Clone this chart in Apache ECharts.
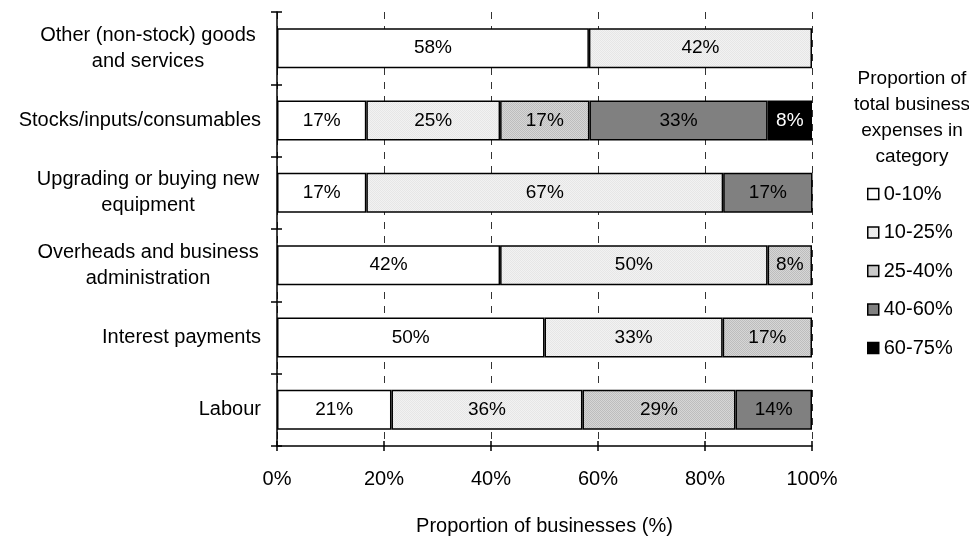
<!DOCTYPE html>
<html><head><meta charset="utf-8">
<script src="https://cdn.jsdelivr.net/npm/echarts@6/dist/echarts.min.js"></script>
<style>html,body{margin:0;padding:0;background:#fff}#c{width:969px;height:538px}</style>
</head><body><div id="c"></div>
<script>
// Categories, top to bottom
const categories = [
  'Other (non-stock) goods\nand services',
  'Stocks/inputs/consumables',
  'Upgrading or buying new\nequipment',
  'Overheads and business\nadministration',
  'Interest payments',
  'Labour'
];
const seriesNames = ['0-10%', '10-25%', '25-40%', '40-60%', '60-75%'];
// values per series (percent of businesses), in category order
const s0_10  = [58.3, 16.7, 16.7, 41.7, 50.0, 21.4];
const s10_25 = [41.7, 25.0, 66.7, 50.0, 33.3, 35.7];
const s25_40 = [null, 16.7, null,  8.3, 16.7, 28.6];
const s40_60 = [null, 33.3, 16.7, null, null, 14.3];
const s60_75 = [null,  8.3, null, null, null, null];
const xTicks = [0, 20, 40, 60, 80, 100];

function pattern(c1, c2) {
  const cv = document.createElement('canvas');
  cv.width = 2; cv.height = 2;
  const g = cv.getContext('2d');
  g.fillStyle = c1; g.fillRect(0, 0, 2, 2);
  g.fillStyle = c2; g.fillRect(0, 0, 1, 1); g.fillRect(1, 1, 1, 1);
  return { image: cv, repeat: 'repeat' };
}
const fills = ['#ffffff', pattern('#f2f2f2', '#e6e6e6'), pattern('#d6d6d6', '#bdbdbd'), '#808080', '#000000'];
const labelColors = ['#000', '#000', '#000', '#000', '#fff'];
const allData = [s0_10, s10_25, s25_40, s40_60, s60_75];

const FONT = 'Liberation Sans, Arial, sans-serif';
const FS = 20;
const chart = echarts.init(document.getElementById('c'), null, { renderer: 'canvas' });

const series = seriesNames.map((n, i) => ({
  name: n,
  type: 'bar',
  stack: 'all',
  barWidth: 40,
  data: allData[i],
  itemStyle: { color: fills[i], borderColor: '#000', borderWidth: 1.5 },
  label: {
    show: true, position: 'inside', color: labelColors[i],
    fontFamily: FONT, fontSize: 19,
    formatter: p => Math.round(p.value) + '%'
  },
  emphasis: { disabled: true }
}));

chart.setOption({
  animation: false,
  backgroundColor: '#fff',
  textStyle: { fontFamily: FONT },
  grid: { left: 277, right: 157, top: 12, bottom: 92, containLabel: false, outerBoundsMode: 'none' },
  title: {
    text: 'Proportion of\ntotal business\nexpenses in\ncategory',
    left: 907, top: 61, textAlign: 'center',
    textStyle: { fontFamily: FONT, fontSize: 19, fontWeight: 'normal', color: '#000', lineHeight: 26 }
  },
  legend: {
    orient: 'vertical', left: 862, top: 179,
    itemWidth: 11, itemHeight: 11, itemGap: 18.5,
    icon: 'rect',
    data: seriesNames,
    textStyle: { fontFamily: FONT, fontSize: FS, color: '#000' },
    itemStyle: { borderColor: '#000', borderWidth: 1.5 }
  },
  xAxis: [{
    type: 'value', min: 0, max: 100, interval: 20,
    name: 'Proportion of businesses (%)', nameLocation: 'middle', nameGap: 70,
    nameTextStyle: { fontFamily: FONT, fontSize: FS, color: '#000' },
    axisLine: { show: true, lineStyle: { color: '#000', width: 1.5 } },
    axisTick: { show: true, length: 5, lineStyle: { color: '#000', width: 1.5 } },
    axisLabel: { formatter: v => xTicks.includes(v) ? v + '%' : '', fontFamily: FONT, fontSize: FS, color: '#000', margin: 23 },
    splitLine: { show: true, lineStyle: { color: '#333', width: 1, type: [7, 7] } }
  }, {
    type: 'value', min: 0, max: 100, interval: 20, position: 'bottom',
    axisLine: { show: false },
    axisTick: { show: true, inside: true, length: 5, lineStyle: { color: '#000', width: 1.5 } },
    axisLabel: { show: false }, splitLine: { show: false }
  }],
  yAxis: [{
    type: 'category', inverse: true, data: categories,
    axisLine: { show: true, lineStyle: { color: '#000', width: 1.5 } },
    axisTick: { show: true, length: 6, lineStyle: { color: '#000', width: 1.5 } },
    axisLabel: {
      margin: 16, fontFamily: FONT, fontSize: FS, color: '#000', lineHeight: 26,
      formatter: v => v.indexOf('\n') >= 0 ? v.split('\n').map(l => '{c|' + l + '}').join('\n') : v,
      rich: { c: { width: 226, align: 'center', fontFamily: FONT, fontSize: FS, color: '#000', lineHeight: 26 } }
    },
    splitLine: { show: false }
  }, {
    type: 'category', inverse: true, data: categories, position: 'left',
    axisLine: { show: false },
    axisTick: { show: true, inside: true, length: 5, lineStyle: { color: '#000', width: 1.5 } },
    axisLabel: { show: false }, splitLine: { show: false }
  }],
  series: series
});
</script>
</body></html>
